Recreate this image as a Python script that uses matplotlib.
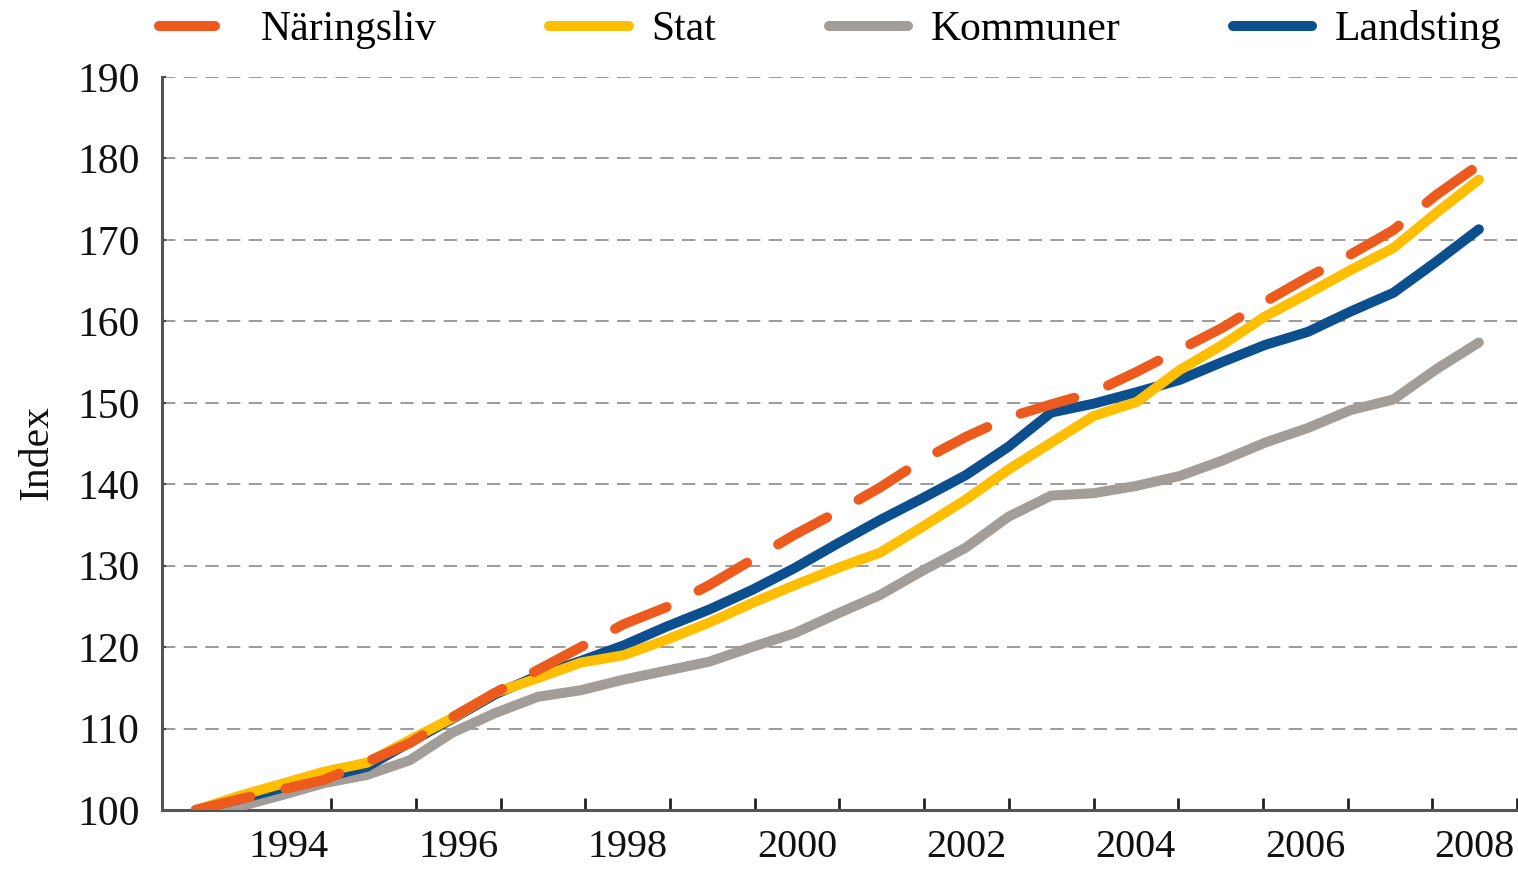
import numpy as np
import matplotlib
matplotlib.use("Agg")
import matplotlib.pyplot as plt

plt.rcParams['font.family'] = ['Liberation Serif', 'DejaVu Serif']

# half-year sample positions (decimal years)
t = np.linspace(1993.4, 2008.55, 31)

naringsliv = [100.0, 101.3, 102.5, 103.7, 105.9, 108.2, 111.4, 114.4, 117.2, 120.0,
              122.8, 124.9, 127.6, 130.7, 133.8, 136.6, 139.6, 143.0, 145.8, 148.2,
              149.8, 151.3, 153.8, 156.5, 159.2, 162.4, 165.4, 168.2, 171.2, 175.5, 179.2]
stat = [100.0, 101.7, 103.2, 104.7, 105.8, 108.6, 111.3, 114.4, 116.2, 118.1,
        119.0, 120.9, 123.0, 125.4, 127.6, 129.7, 131.6, 134.8, 138.1, 141.8,
        145.1, 148.4, 150.1, 154.0, 157.1, 160.6, 163.4, 166.3, 169.0, 173.3, 177.4]
kommuner = [100.0, 100.4, 101.8, 103.3, 104.3, 106.1, 109.5, 111.9, 113.9, 114.7,
            116.0, 117.1, 118.2, 120.0, 121.7, 124.1, 126.4, 129.4, 132.2, 136.0,
            138.6, 138.9, 139.8, 141.0, 142.9, 145.1, 146.9, 149.1, 150.4, 154.1, 157.4]
landsting = [100.0, 101.3, 102.7, 104.0, 105.3, 108.3, 111.2, 114.2, 116.5, 118.3,
             120.2, 122.5, 124.6, 127.0, 129.7, 132.7, 135.6, 138.3, 141.1, 144.6,
             148.8, 149.9, 151.3, 152.8, 155.0, 157.1, 158.7, 161.2, 163.5, 167.3, 171.3]

year_labels = ['1994', '1996', '1998', '2000', '2002', '2004', '2006', '2008']
yticks = np.arange(100, 191, 10)

fig = plt.figure(figsize=(15.18, 8.73), dpi=100)
ax = fig.add_axes([0.1067, 0.0722, 0.8926, 0.8396])

lw = 7.2
kw = dict(lw=lw, solid_capstyle='round', solid_joinstyle='round')
ax.plot(t, kommuner, color='#A29D98', label='Kommuner', zorder=3, **kw)
ax.plot(t, landsting, color='#0B4F8E', label='Landsting', zorder=4, **kw)
ax.plot(t, stat, color='#FFBE00', label='Stat', zorder=5, **kw)
ax.plot(t, naringsliv, color='#EC5A1E', lw=lw, dashes=(5.6, 3.6), dash_capstyle='round',
        label='Näringsliv', zorder=6)

ax.set_xlim(1993, 2009)
ax.set_ylim(100, 190)

ax.set_yticks(yticks)
ax.set_yticklabels([str(v) for v in yticks])
ax.set_xticks(np.arange(1994, 2010))
ax.set_xticklabels([])
ax.set_xticks([int(y) + 0.5 for y in year_labels], minor=True)
ax.set_xticklabels(year_labels, minor=True)

ax.tick_params(axis='x', which='major', direction='in', length=9, width=2, color='#222222')
ax.tick_params(axis='x', which='minor', length=0, pad=14, labelsize=29, labelcolor='#111111')
ax.tick_params(axis='y', direction='in', length=3, width=1.5, color='#444444', pad=16,
               labelsize=30, labelcolor='#111111')

for v in yticks:
    ax.axhline(v, color='#8a8a8a', lw=1.2, linestyle=(0, (8, 5)), zorder=1)

for s in ['top', 'right']:
    ax.spines[s].set_visible(False)
for s in ['left', 'bottom']:
    ax.spines[s].set_color('#555555')
    ax.spines[s].set_linewidth(2.2)

fig.text(37 / 1518, 0.482, 'Index', rotation=90, ha='center', va='center',
         fontsize=30, color='#111111')

h, l = ax.get_legend_handles_labels()
order = [3, 2, 0, 1]
leg = fig.legend([h[i] for i in order], [l[i] for i in order], ncol=4, frameon=False,
                 loc='center', bbox_to_anchor=(0.547, 0.966), fontsize=30,
                 handlelength=1.9, handletextpad=0.55, columnspacing=2.7)

fig.savefig('out.png', dpi=100)
